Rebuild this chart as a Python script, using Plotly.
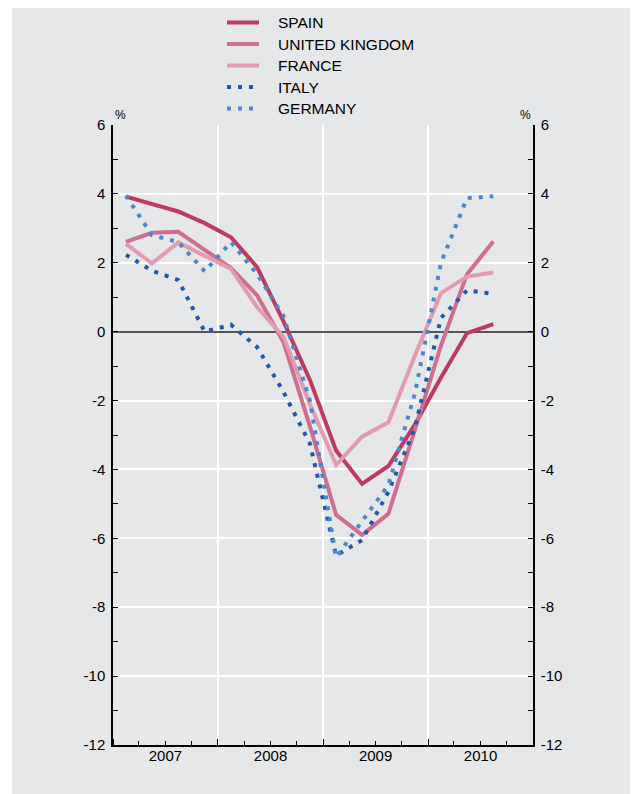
import plotly.graph_objects as go
import pandas as pd

# ---------------- data ----------------
quarters = ["2007Q1", "2007Q2", "2007Q3", "2007Q4",
            "2008Q1", "2008Q2", "2008Q3", "2008Q4",
            "2009Q1", "2009Q2", "2009Q3", "2009Q4",
            "2010Q1", "2010Q2", "2010Q3"]
spain   = [3.92, 3.71, 3.49, 3.15, 2.74, 1.87, 0.30, -1.40, -3.45, -4.42, -3.90, -2.70, -1.33, -0.04, 0.22]
uk      = [2.61, 2.87, 2.90, 2.38, 1.85, 1.05, -0.30, -2.75, -5.32, -5.90, -5.29, -2.85, -0.40, 1.67, 2.62]
france  = [2.55, 1.98, 2.59, 2.22, 1.82, 0.71, -0.15, -2.10, -3.87, -3.05, -2.63, -0.70, 1.12, 1.60, 1.72]
italy   = [2.23, 1.77, 1.50, 0.00, 0.20, -0.45, -1.75, -3.25, -6.50, -6.05, -4.65, -2.80, 0.40, 1.20, 1.10]
germany = [3.95, 2.80, 2.60, 1.75, 2.60, 1.67, 0.45, -2.00, -6.55, -5.50, -4.45, -1.80, 2.00, 3.88, 3.93]

series_names = ["SPAIN", "UNITED KINGDOM", "FRANCE", "ITALY", "GERMANY"]
y_tick_values = [6, 4, 2, 0, -2, -4, -6, -8, -10, -12]
y_tick_labels = ["6", "4", "2", "0", "-2", "-4", "-6", "-8", "-10", "-12"]
unit_label = "%"

# ---------------- styles ----------------
FONT = "Liberation Sans, Arial, Helvetica, sans-serif"
TXT = "#000000"
BG = "#e6e7e8"
DOT = "4px,7px"
styles = {
    "SPAIN":          dict(color="#bd3a63", width=4, dash="solid"),
    "UNITED KINGDOM": dict(color="#d06e90", width=4, dash="solid"),
    "FRANCE":         dict(color="#e19bb2", width=4, dash="solid"),
    "ITALY":          dict(color="#1f5aa8", width=4, dash=DOT),
    "GERMANY":        dict(color="#4d87c9", width=4, dash=DOT),
}

def quarter_mid(q):
    p = pd.Period(q, freq="Q")
    return p.start_time + (p.end_time - p.start_time) / 2

x = [quarter_mid(q) for q in quarters]
values = [spain, uk, france, italy, germany]

fig = go.Figure()
for name, vals in zip(series_names, values):
    fig.add_trace(go.Scatter(x=x, y=vals, mode="lines", name=name,
                             line=styles[name], showlegend=False))

# page has an 8px body margin; figure coordinates = page coordinates - 8
OFF = 8
W, H = 630, 786
L, T = 113 - OFF, 125 - OFF
R = W - (533 - OFF)
B = H - (745 - OFF)
pw, ph = W - L - R, H - T - B

def px_x(p):  # page pixel -> paper x
    return (p - OFF - L) / pw

def px_y(p):  # page pixel -> paper y
    return (H - B - (p - OFF)) / ph

# grey card behind the chart
fig.add_shape(type="rect", xref="paper", yref="paper",
              x0=px_x(12), x1=px_x(660), y0=px_y(820), y1=px_y(8),
              fillcolor=BG, line_width=0, layer="below")

# legend (drawn manually to match the original spacing)
leg_x0, leg_x1, leg_text_x = 227, 259, 276
leg_y0, leg_dy = 22.5, 21.5
for i, name in enumerate(series_names):
    yy = px_y(leg_y0 + i * leg_dy)
    st = styles[name]
    fig.add_shape(type="line", xref="paper", yref="paper",
                  x0=px_x(leg_x0), x1=px_x(leg_x1), y0=yy, y1=yy,
                  line=dict(color=st["color"], width=st["width"], dash=st["dash"]))
    fig.add_annotation(text=name, xref="paper", yref="paper",
                       x=px_x(leg_text_x), y=yy, xanchor="left", yanchor="middle",
                       showarrow=False,
                       font=dict(family=FONT, size=15.5, color=TXT))

axis_common = dict(
    range=[-12, 6], tickvals=y_tick_values, ticktext=y_tick_labels,
    ticks="inside", ticklen=5, tickwidth=1, tickcolor="black",
    minor=dict(dtick=1, ticks="inside", ticklen=5, tickcolor="black", showgrid=False),
    showline=True, linecolor="black", linewidth=1.5,
    tickfont=dict(family=FONT, size=15, color=TXT),
    ticklabelstandoff=3,
    fixedrange=True,
)

fig.update_layout(
    width=W, height=H,
    margin=dict(l=L, r=R, t=T, b=B, autoexpand=False),
    paper_bgcolor="white", plot_bgcolor=BG,
    showlegend=False,
    xaxis=dict(
        type="date", range=["2007-01-01", "2011-01-01"],
        dtick="M12", tick0="2007-01-01", tickformat="%Y", ticklabelmode="period",
        ticks="inside", ticklen=6, tickcolor="black",
        minor=dict(dtick="M3", ticks="inside", ticklen=4, tickcolor="black", showgrid=False),
        showgrid=True, gridcolor="white", gridwidth=1.5,
        showline=True, linecolor="black", linewidth=1.5,
        tickfont=dict(family=FONT, size=15, color=TXT),
        ticklabelstandoff=-4,
        zeroline=False, fixedrange=True,
    ),
    yaxis=dict(**axis_common, side="left", showgrid=True, gridcolor="white", gridwidth=1.5,
               zeroline=True, zerolinecolor="#555", zerolinewidth=1.5),
    yaxis2=dict(**axis_common, side="right", overlaying="y", showgrid=False, zeroline=False),
)

fig.add_trace(go.Scatter(x=[x[0]], y=[None], yaxis="y2", showlegend=False,
                         hoverinfo="skip", mode="lines"))

fig.add_annotation(text=unit_label, xref="paper", yref="paper", x=0, y=1,
                   xanchor="left", yanchor="bottom", showarrow=False, yshift=1,
                   font=dict(family=FONT, size=12, color=TXT))
fig.add_annotation(text=unit_label, xref="paper", yref="paper", x=1, y=1,
                   xanchor="right", yanchor="bottom", showarrow=False, yshift=1,
                   font=dict(family=FONT, size=12, color=TXT))

fig.write_html("out.html")
